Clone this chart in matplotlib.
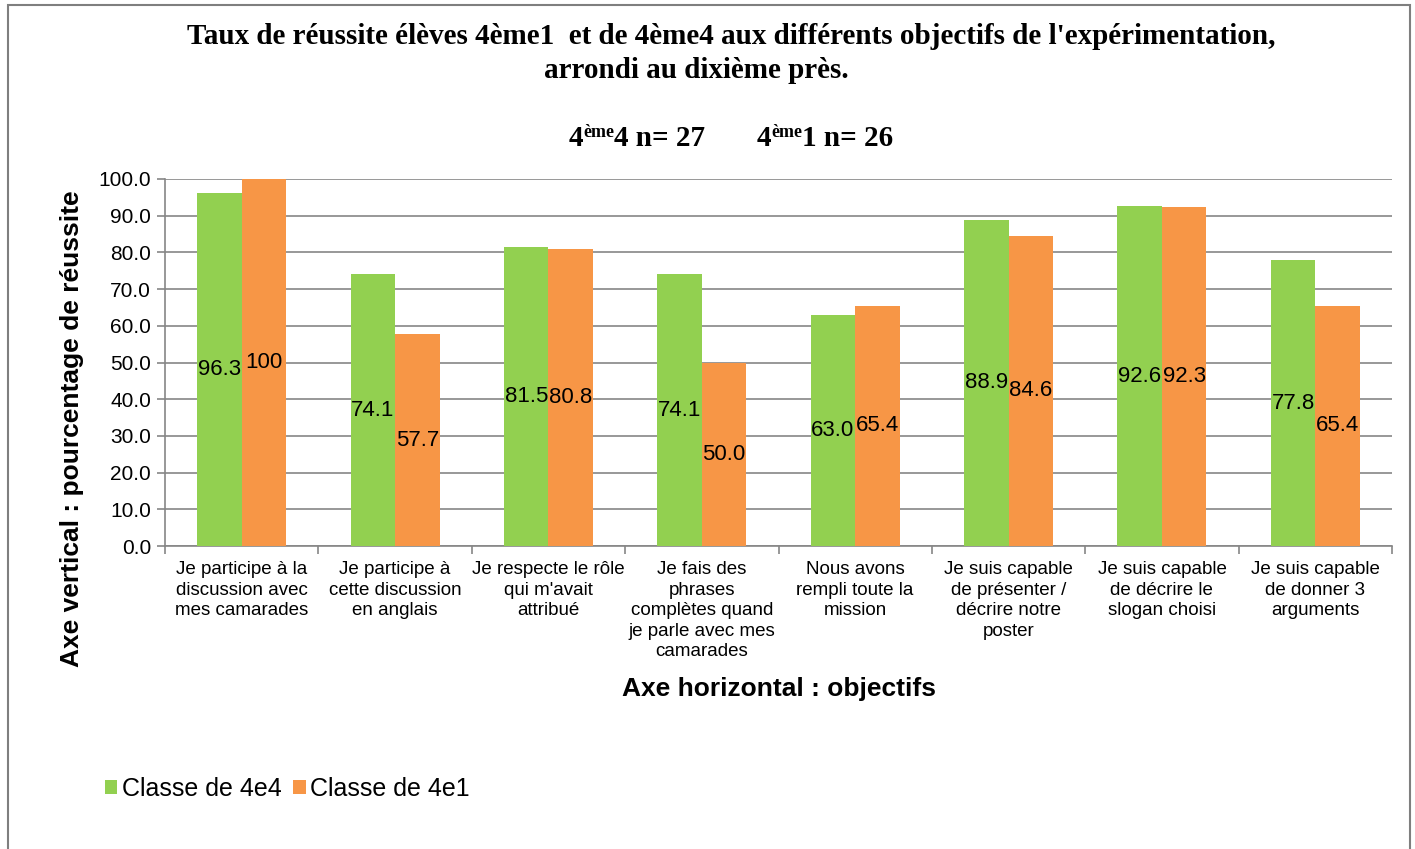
import matplotlib
matplotlib.use("Agg")
import matplotlib.pyplot as plt
from matplotlib.patches import Rectangle
import numpy as np

categories = [
    "Je participe à la\ndiscussion avec\nmes camarades",
    "Je participe à\ncette discussion\nen anglais",
    "Je respecte le rôle\nqui m'avait\nattribué",
    "Je fais des\nphrases\ncomplètes quand\nje parle avec mes\ncamarades",
    "Nous avons\nrempli toute la\nmission",
    "Je suis capable\nde présenter /\ndécrire notre\nposter",
    "Je suis capable\nde décrire le\nslogan choisi",
    "Je suis capable\nde donner 3\narguments",
]
classe_4e4 = [96.3, 74.1, 81.5, 74.1, 63.0, 88.9, 92.6, 77.8]
classe_4e1 = [100, 57.7, 80.8, 50.0, 65.4, 84.6, 92.3, 65.4]
labels_4e4 = ["96.3", "74.1", "81.5", "74.1", "63.0", "88.9", "92.6", "77.8"]
labels_4e1 = ["100", "57.7", "80.8", "50.0", "65.4", "84.6", "92.3", "65.4"]
series_names = ["Classe de 4e4", "Classe de 4e1"]
yticks = np.arange(0, 101, 10)

GREEN = "#92D050"
ORANGE = "#F79646"
GRID = "#868686"

W, H = 1415, 849
fig = plt.figure(figsize=(W / 100, H / 100), dpi=100)
fig.patch.set_facecolor("white")

# outer chart border
fig.add_artist(Rectangle((8 / W, -0.05), (1410 - 8) / W, 1 - 5 / H + 0.05,
                         transform=fig.transFigure, fill=False,
                         edgecolor="#7f7f7f", linewidth=1.5))

ax = fig.add_axes([165 / W, 1 - 546 / H, (1392 - 165) / W, (546 - 179) / H])

x = np.arange(len(categories))
bw = 0.29
b1 = ax.bar(x - bw / 2, classe_4e4, bw, color=GREEN, label=series_names[0], zorder=3)
b2 = ax.bar(x + bw / 2, classe_4e1, bw, color=ORANGE, label=series_names[1], zorder=3)

for bars, labs in ((b1, labels_4e4), (b2, labels_4e1)):
    for r, lab in zip(bars, labs):
        ax.text(r.get_x() + r.get_width() / 2, r.get_height() / 2, lab,
                ha="center", va="center", fontsize=16, family="Liberation Sans",
                color="black", zorder=4)

ax.set_xlim(-0.5, len(categories) - 0.5)
ax.set_ylim(0, 100)
ax.set_yticks(yticks)
ax.set_yticklabels([f"{v:.1f}" for v in yticks], fontsize=15, family="Liberation Sans")
ax.yaxis.grid(True, color=GRID, linewidth=1.2, zorder=0)
ax.set_axisbelow(True)

ax.set_xticks(x)
ax.set_xticklabels(categories, fontsize=13.5, family="Liberation Sans", linespacing=1.27)
ax.tick_params(axis="x", length=0, pad=11)
ax.set_xticks(np.arange(-0.5, len(categories), 1), minor=True)
ax.tick_params(axis="x", which="minor", length=6, color=GRID, width=1.2)
ax.tick_params(axis="y", length=6, color=GRID, width=1.2, pad=4)

for s in ("top", "right"):
    ax.spines[s].set_visible(False)
for s in ("left", "bottom"):
    ax.spines[s].set_color(GRID)
    ax.spines[s].set_linewidth(1.2)

fig.text(779 / W, 1 - 689 / H, "Axe horizontal : objectifs", ha="center", va="center",
         fontsize=19, fontweight="bold", family="Liberation Sans")
fig.text(72 / W, 1 - 429 / H, "Axe vertical : pourcentage de réussite", ha="center",
         va="center", rotation=90, fontsize=19, fontweight="bold", family="Liberation Sans")

# title
fig.text(731 / W, 1 - 37 / H, "Taux de réussite élèves 4ème1  et de 4ème4 aux différents objectifs de l'expérimentation,",
         ha="center", va="center", fontsize=21, fontweight="bold", family="Liberation Serif")
fig.text(696 / W, 1 - 70 / H, "arrondi au dixième près.",
         ha="center", va="center", fontsize=21, fontweight="bold", family="Liberation Serif")

# subtitle with superscripts
pieces = [("4", 21, 0), ("ème", 13, 9), ("4 n= 27", 21, 0), ("       ", 21, 0),
          ("4", 21, 0), ("ème", 13, 9), ("1 n= 26", 21, 0)]
renderer = fig.canvas.get_renderer()
texts = []
total = 0
for s, fs, dy in pieces:
    t = fig.text(0, 0, s, fontsize=fs, fontweight="bold", family="Liberation Serif",
                 ha="left", va="baseline")
    w = t.get_window_extent(renderer).width
    texts.append((t, w, dy))
    total += w
xs = 731 - total / 2
base = H - 146
for t, w, dy in texts:
    t.set_position((xs / W, (base + dy) / H))
    xs += w

leg = fig.legend(handles=[b1, b2], labels=series_names, loc="center left",
                 bbox_to_anchor=(82 / W, 1 - 789 / H), ncol=2, frameon=False,
                 prop={"family": "Liberation Sans", "size": 18}, handlelength=0.5,
                 handleheight=0.5, handletextpad=0.2, columnspacing=0.45)

fig.savefig("out.png", dpi=100, facecolor="white")
